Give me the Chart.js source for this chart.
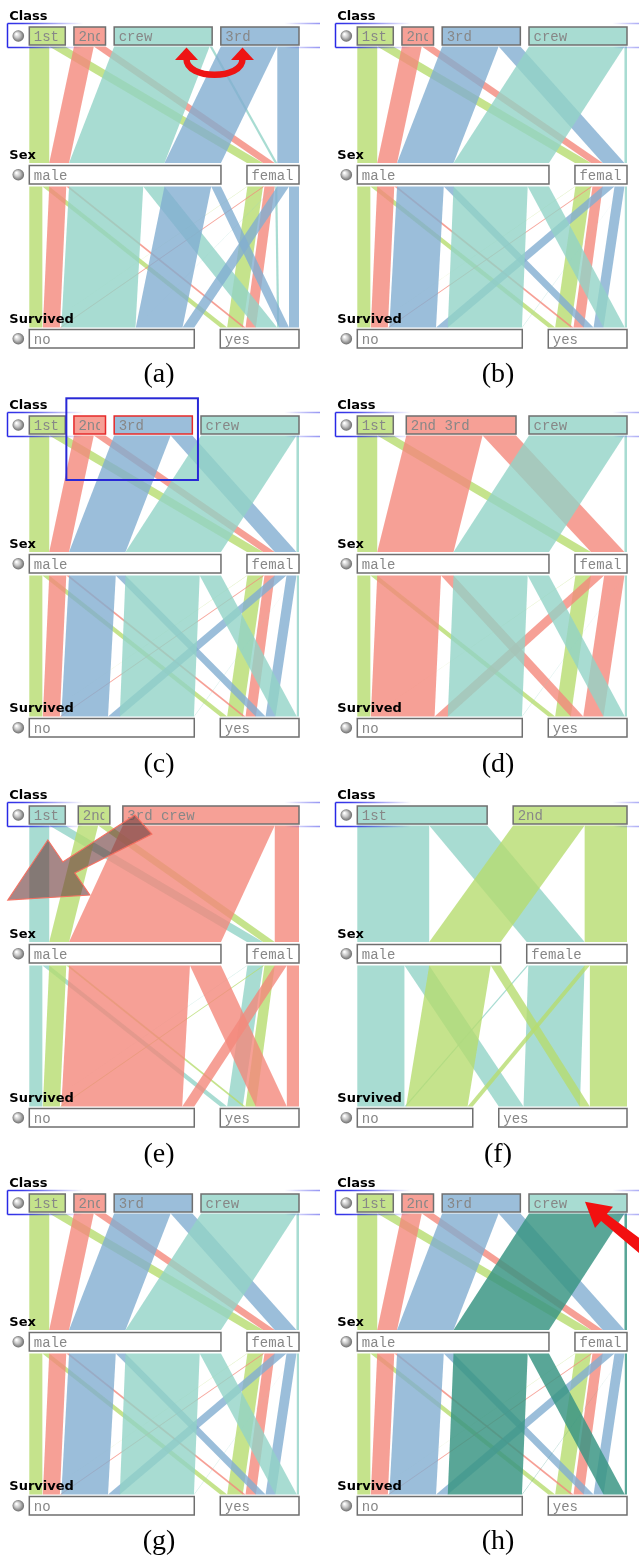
<!DOCTYPE html>
<html lang="en">
<head>
<meta charset="utf-8">
<title>Parallel Sets - Titanic</title>
<script src="https://cdn.jsdelivr.net/npm/chart.js@4.4.1/dist/chart.umd.min.js"></script>
<style>
  html, body { margin: 0; padding: 0; background: #fff; }
  body { width: 639px; height: 1560px; position: relative; overflow: hidden; }
  canvas.panel { position: absolute; }
  .cap {
    position: absolute; width: 80px; margin-left: -40px; text-align: center;
    font: 28px "Liberation Serif", "Times New Roman", serif; line-height: 28px; color: #000;
  }
</style>
</head>
<body>
<script>
// Titanic passengers per class, split by sex and survival
const classNames = ['1st', '2nd', '3rd', 'crew'];
const sexNames = ['male', 'female'];
const survivedNames = ['no', 'yes'];
const axisTitles = ['Class', 'Sex', 'Survived'];
const maleNo    = [118, 154, 422, 670];
const maleYes   = [62, 25, 88, 192];
const femaleNo  = [4, 13, 106, 3];
const femaleYes = [141, 93, 90, 20];

// the eight views: category order / merged categories and their colours
const panelLetters = ['a', 'b', 'c', 'd', 'e', 'f', 'g', 'h'];
const panelGroups = [
    [['1st'], ['2nd'], ['crew'], ['3rd']],
    [['1st'], ['2nd'], ['3rd'], ['crew']],
    [['1st'], ['2nd'], ['3rd'], ['crew']],
    [['1st'], ['2nd', '3rd'], ['crew']],
    [['1st'], ['2nd'], ['3rd', 'crew']],
    [['1st'], ['2nd']],
    [['1st'], ['2nd'], ['3rd'], ['crew']],
    [['1st'], ['2nd'], ['3rd'], ['crew']]
];
const panelColors = [
    ['green', 'red', 'teal', 'blue'],
    ['green', 'red', 'blue', 'teal'],
    ['green', 'red', 'blue', 'teal'],
    ['green', 'red', 'teal'],
    ['teal', 'green', 'red'],
    ['teal', 'green'],
    ['green', 'red', 'blue', 'teal'],
    ['green', 'red', 'blue', 'teal']
];
// interaction marks drawn on some views
const panelMarks = {
    a: { swap: [2, 3] },
    c: { selected: [1, 2] },
    e: { dragged: 2 },
    h: { highlight: 3 }
};

const PALETTE = {
    green: [183, 220, 111],
    red:   [244, 136, 124],
    blue:  [130, 174, 209],
    teal:  [146, 211, 199],
    dark:  [60, 150, 133]
};
const RIBBON_ALPHA = 0.8;

// geometry of one view (canvas units)
const PANEL_H = 390;
const COL_X = [0, 328];
const COL_W = [320, 311];
const ROW_Y = [0, 389, 779, 1167];
const CAPTION_BASE = [382, 772, 1162, 1549];
const CAPTION_CX = [159, 498];
const X_LEFT = 29.3, X_RIGHT = 299, GAP = 26;
const AXIS_BOX = [[27, 45], [165.5, 184], [329.5, 348]];
const BANDS = [[46.5, 163], [186.5, 327.5]];

const sum = arr => arr.reduce((a, b) => a + b, 0);
const rgba = (name, a) => `rgba(${PALETTE[name].join(',')},${a})`;
const solid = name => 'rgb(' + PALETTE[name].map(v => Math.round(v * RIBBON_ALPHA + 255 * (1 - RIBBON_ALPHA))).join(',') + ')';

function spread(totals, k) {
    const gap = totals.length > 1 ? GAP / (totals.length - 1) : 0;
    let x = X_LEFT;
    return totals.map(t => { const s = x; x += t * k + gap; return s; });
}

function band(xTop, yTop, xBot, yBot, w, color) {
    return {
        data: [{ x: xTop, y: yTop }, { x: xTop + w, y: yTop }, { x: xBot + w, y: yBot }, { x: xBot, y: yBot }],
        fill: 'shape', backgroundColor: color, borderColor: 'rgba(0,0,0,0)', borderWidth: 0, pointRadius: 0
    };
}

function box(x0, x1, y0, y1, fillColor, lineColor) {
    const tl = { x: x0, y: y0 }, tr = { x: x1, y: y0 };
    return {
        data: [tl, tr, { x: x1, y: y1 }, { x: x0, y: y1 }, tl, tr],
        fill: 'shape', backgroundColor: fillColor, borderColor: lineColor, borderWidth: 1.5,
        borderJoinStyle: 'miter', pointRadius: 0
    };
}

function layoutPanel(idx) {
    const groups = panelGroups[idx];
    const colors = panelColors[idx];
    const marks = panelMarks[panelLetters[idx]] || {};
    const table = [[maleNo, maleYes], [femaleNo, femaleYes]];
    // cells[g][sex][survived]
    const cells = groups.map(g => [0, 1].map(s => [0, 1].map(v =>
        sum(g.map(name => table[s][v][classNames.indexOf(name)])))));
    const sexCell = (g, s) => cells[g][s][0] + cells[g][s][1];
    const classTot = cells.map((c, g) => sexCell(g, 0) + sexCell(g, 1));
    const sexTot = [0, 1].map(s => sum(cells.map((c, g) => sexCell(g, s))));
    const survTot = [0, 1].map(v => sum(cells.map(c => c[0][v] + c[1][v])));
    const k = (X_RIGHT - X_LEFT - GAP) / sum(classTot);
    const classX = spread(classTot, k), sexX = spread(sexTot, k), survX = spread(survTot, k);

    const ribbonColor = g => g === marks.highlight ? rgba('dark', 0.85) : rgba(colors[g], RIBBON_ALPHA);
    const normal = [], top = [];
    groups.forEach((grp, g) => {
        const target = g === marks.highlight ? top : normal;
        // class -> sex
        [0, 1].forEach(s => {
            const w = sexCell(g, s) * k;
            if (!w) return;
            const xTop = classX[g] + (s ? sexCell(g, 0) * k : 0);
            let before = 0;
            for (let h = 0; h < g; h++) before += sexCell(h, s);
            target.push(band(xTop, BANDS[0][0], sexX[s] + before * k, BANDS[0][1], w, ribbonColor(g)));
        });
    });
    groups.forEach((grp, g) => {
        const target = g === marks.highlight ? top : normal;
        // sex -> survived
        [0, 1].forEach(s => [0, 1].forEach(v => {
            const w = cells[g][s][v] * k;
            if (!w) return;
            let above = 0, below = 0;
            for (let h = 0; h < g; h++) { above += sexCell(h, s); below += cells[h][0][v] + cells[h][1][v]; }
            if (v) above += cells[g][s][0];
            if (s) below += cells[g][0][v];
            target.push(band(sexX[s] + above * k, BANDS[1][0], survX[v] + below * k, BANDS[1][1], w, ribbonColor(g)));
        }));
    });

    const boxes = [];
    groups.forEach((grp, g) => boxes.push({
        axis: 0, x0: classX[g], x1: classX[g] + classTot[g] * k, label: grp.join(' '),
        fill: solid(colors[g]),
        line: (marks.selected || []).includes(g) ? '#e62a2a' : '#6f6f6f'
    }));
    sexNames.forEach((name, s) => boxes.push({ axis: 1, x0: sexX[s], x1: sexX[s] + sexTot[s] * k, label: name, fill: '#fff', line: '#6f6f6f' }));
    survivedNames.forEach((name, v) => boxes.push({ axis: 2, x0: survX[v], x1: survX[v] + survTot[v] * k, label: name, fill: '#fff', line: '#6f6f6f' }));

    const datasets = normal.concat(top, boxes.map(b => box(b.x0, b.x1, AXIS_BOX[b.axis][0], AXIS_BOX[b.axis][1], b.fill, b.line)));
    // Chart.js paints the first dataset last, so reverse the painting order
    return { letter: panelLetters[idx], marks, boxes, datasets: datasets.reverse() };
}

function decorations(p) {
    return {
        id: 'decor_' + p.letter,
        afterDatasetsDraw(chart) {
            const ctx = chart.ctx;
            const X = v => chart.scales.x.getPixelForValue(v);
            const Y = v => chart.scales.y.getPixelForValue(v);
            const classBoxes = p.boxes.filter(b => b.axis === 0);
            ctx.save();

            // selected-axis frame round the Class row
            const fTop = Y(AXIS_BOX[0][0] - 3.5), fBot = Y(AXIS_BOX[0][1] + 2.5), fx = X(7.5);
            const grad = ctx.createLinearGradient(0, 0, 320, 0);
            grad.addColorStop(0, 'rgba(40,40,230,1)');
            grad.addColorStop(0.07, 'rgba(40,40,230,0.9)');
            grad.addColorStop(0.26, 'rgba(40,40,230,0)');
            grad.addColorStop(0.89, 'rgba(40,40,230,0)');
            grad.addColorStop(1, 'rgba(80,80,235,0.6)');
            ctx.lineWidth = 1.5;
            ctx.strokeStyle = grad;
            ctx.beginPath();
            ctx.moveTo(fx, fTop); ctx.lineTo(330, fTop);
            ctx.moveTo(fx, fBot); ctx.lineTo(330, fBot);
            ctx.stroke();
            ctx.strokeStyle = 'rgb(40,40,230)';
            ctx.beginPath(); ctx.moveTo(fx, fTop); ctx.lineTo(fx, fBot); ctx.stroke();

            // axis titles and radio knobs
            ctx.fillStyle = '#000';
            ctx.font = 'bold 13px "DejaVu Sans", Verdana, sans-serif';
            AXIS_BOX.forEach((ab, i) => {
                ctx.fillStyle = '#000';
                ctx.fillText(axisTitles[i], X(9.3), Y(ab[0] - 7));
                const cx = X(18.3), cy = Y((ab[0] + ab[1]) / 2);
                const rg = ctx.createRadialGradient(cx - 2, cy - 2, 0.5, cx, cy, 6);
                rg.addColorStop(0, '#ffffff');
                rg.addColorStop(0.45, '#c6c6c6');
                rg.addColorStop(1, '#666');
                ctx.fillStyle = rg;
                ctx.beginPath(); ctx.arc(cx, cy, 5.8, 0, Math.PI * 2); ctx.fill();
            });

            // category labels, clipped to their boxes
            ctx.font = '14px "Liberation Mono", "Courier New", monospace';
            ctx.fillStyle = '#878787';
            p.boxes.forEach(b => {
                const y0 = Y(AXIS_BOX[b.axis][0]), y1 = Y(AXIS_BOX[b.axis][1]);
                ctx.save();
                ctx.beginPath();
                ctx.rect(X(b.x0) + 1, y0, X(b.x1) - X(b.x0) - 6.5, y1 - y0);
                ctx.clip();
                ctx.fillText(b.label, X(b.x0) + 4.5, y1 - 4);
                ctx.restore();
            });

            const m = p.marks;
            const boxTop = Y(AXIS_BOX[0][0]), boxBot = Y(AXIS_BOX[0][1]);
            if (m.swap) {
                // curved swap arrow between the two reordered categories
                const cx = (X(classBoxes[m.swap[0]].x1) + X(classBoxes[m.swap[1]].x0)) / 2 - 2;
                const yEnd = boxBot + 14;
                ctx.strokeStyle = '#ee1414';
                ctx.fillStyle = '#ee1414';
                ctx.lineWidth = 6.5;
                ctx.beginPath();
                ctx.moveTo(cx - 28, yEnd);
                ctx.bezierCurveTo(cx - 28, boxBot + 35, cx + 28, boxBot + 35, cx + 28, yEnd);
                ctx.stroke();
                [-28, 28].forEach(dx => {
                    ctx.beginPath();
                    ctx.moveTo(cx + dx, boxBot + 2.5);
                    ctx.lineTo(cx + dx - 11.5, yEnd + 1);
                    ctx.lineTo(cx + dx + 11.5, yEnd + 1);
                    ctx.closePath(); ctx.fill();
                });
            }
            if (m.selected) {
                // rubber-band selection rectangle
                const a = classBoxes[m.selected[0]], b = classBoxes[m.selected[1]];
                ctx.strokeStyle = '#2828d6';
                ctx.lineWidth = 2;
                ctx.strokeRect(X(a.x0) - 7.6, boxTop - 17.7, X(b.x1) - X(a.x0) + 13.2, 81.7);
            }
            if (m.dragged !== undefined) {
                // big translucent drag arrow leaving the merged category
                const ox = X(classBoxes[m.dragged].x0), oy = boxTop;
                const shape = [[-115, 94], [-75, 34], [-60, 56], [12, 9], [29, 28], [-48, 67], [-33, 89]];
                ctx.beginPath();
                shape.forEach(([dx, dy], i) => i ? ctx.lineTo(ox + dx, oy + dy) : ctx.moveTo(ox + dx, oy + dy));
                ctx.closePath();
                ctx.fillStyle = 'rgba(112,62,62,0.62)';
                ctx.fill();
                ctx.strokeStyle = 'rgba(245,110,95,0.95)';
                ctx.lineWidth = 1.2;
                ctx.stroke();
            }
            if (m.highlight !== undefined) {
                // red pointer at the highlighted category
                const hb = classBoxes[m.highlight];
                const tx = X(hb.x1) - 42, ty = boxTop + 7.7;
                ctx.fillStyle = '#f21010';
                ctx.beginPath();
                ctx.moveTo(tx, ty);
                ctx.lineTo(tx + 10, ty + 26.3);
                ctx.lineTo(tx + 16.1, ty + 19.2);
                ctx.lineTo(tx + 62, ty + 58);
                ctx.lineTo(tx + 70, ty + 48);
                ctx.lineTo(tx + 21.9, ty + 12.2);
                ctx.lineTo(tx + 28, ty + 5);
                ctx.closePath();
                ctx.fill();
            }
            ctx.restore();
        }
    };
}

panelLetters.forEach((letter, idx) => {
    const col = idx % 2, row = Math.floor(idx / 2);
    const p = layoutPanel(idx);
    const canvas = document.createElement('canvas');
    canvas.className = 'panel';
    canvas.width = COL_W[col];
    canvas.height = PANEL_H;
    canvas.style.left = COL_X[col] + 'px';
    canvas.style.top = ROW_Y[row] + 'px';
    document.body.appendChild(canvas);

    new Chart(canvas, {
        type: 'line',
        data: { datasets: p.datasets },
        options: {
            responsive: false,
            animation: false,
            events: [],
            layout: { padding: 0 },
            scales: {
                x: { type: 'linear', min: 0, max: COL_W[col], display: false },
                y: { type: 'linear', min: 0, max: PANEL_H, reverse: true, display: false }
            },
            plugins: { legend: { display: false }, tooltip: { enabled: false } },
            elements: { line: { tension: 0 }, point: { radius: 0 } }
        },
        plugins: [decorations(p)]
    });

    const cap = document.createElement('div');
    cap.className = 'cap';
    cap.textContent = '(' + letter + ')';
    cap.style.left = CAPTION_CX[col] + 'px';
    cap.style.top = (CAPTION_BASE[row] - 23.4) + 'px';
    document.body.appendChild(cap);
});
</script>
</body>
</html>
